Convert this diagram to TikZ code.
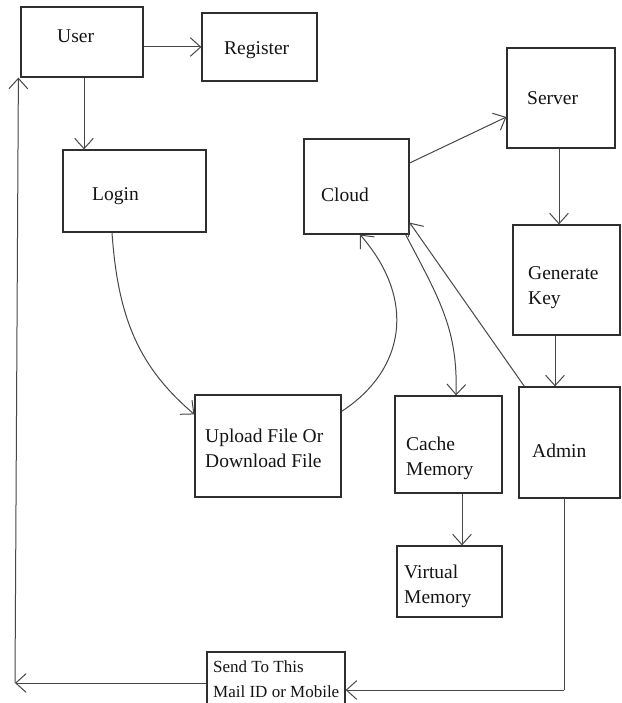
\documentclass[tikz,border=0pt]{standalone}
\usepackage{fontspec}
\setmainfont{Liberation Serif}
\usetikzlibrary{arrows.meta}
\begin{document}
\begin{tikzpicture}[x=1pt,y=-1pt,
  box/.style={draw=black!82, line width=1.2pt, rectangle, inner sep=0pt},
  lbl/.style={anchor=base west, inner sep=0pt, text=black!92, font=\fontsize{19.5}{24}\selectfont},
  slbl/.style={lbl, font=\fontsize{17}{21}\selectfont},
  conn/.style={draw=black!72, line width=1pt},
  arr/.style={conn, -{Straight Barb[angle=84:14pt]}}]
\clip (0,0) rectangle (621,703);
\fill[white] (0,0) rectangle (621,703);

% boxes
\node[box, minimum width=122pt, minimum height=70pt]  (user)     at (82,42) {};
\node[box, minimum width=115pt, minimum height=68pt]  (register) at (259.5,47) {};
\node[box, minimum width=143pt, minimum height=82pt]  (login)    at (134.5,191) {};
\node[box, minimum width=105pt, minimum height=95pt]  (cloud)    at (356.5,186.5) {};
\node[box, minimum width=108pt, minimum height=100pt] (server)   at (561,98) {};
\node[box, minimum width=107pt, minimum height=110pt] (genkey)   at (566.5,280) {};
\node[box, minimum width=146pt, minimum height=102pt] (upload)   at (268,446) {};
\node[box, minimum width=107pt, minimum height=97pt]  (cache)    at (448.5,444.5) {};
\node[box, minimum width=101pt, minimum height=111pt] (admin)    at (569.5,442.5) {};
\node[box, minimum width=105pt, minimum height=71pt]  (virtual)  at (449.5,581.5) {};
\node[box, minimum width=138pt, minimum height=63pt]  (send)     at (276,683.5) {};

% labels
\node[lbl] (tuser) at (57,43) {User};
\node[lbl] (treg) at (224,55) {Register};
\node[lbl] (tlogin) at (92,201) {Login};
\node[lbl] (tcloud) at (321,202) {Cloud};
\node[lbl] (tserver) at (527,105) {Server};
\node[lbl] (tgen1) at (528,279) {Generate};
\node[lbl] (tgen2) at (528,304) {Key};
\node[lbl] (tup1) at (205,442) {Upload File Or};
\node[lbl] (tup2) at (205,467) {Download File};
\node[lbl] (tca1) at (406,450) {Cache};
\node[lbl] (tca2) at (406,475) {Memory};
\node[lbl] (tadmin) at (532,457) {Admin};
\node[lbl] (tvi1) at (404,578) {Virtual};
\node[lbl] (tvi2) at (404,603) {Memory};
\node[slbl] (tse1) at (213,672) {Send To This};
\node[slbl] (tse2) at (213,697) {Mail ID or Mobile};

% corner points of the return paths
\coordinate (c1) at (15,683);
\coordinate (c2) at (564,690);

% straight connectors
\draw[arr] (user.east |- register.west) -- (register.west);
\draw[arr] ([xshift=2pt]user.south) -- ([xshift=2pt]user.south |- login.north);
\draw[arr] ([yshift=23.5pt]cloud.east) -- ([yshift=-19pt]server.west);
\draw[arr] ([xshift=-2pt]server.south) -- ([xshift=-2pt]server.south |- genkey.north);
\draw[arr] ([xshift=-11.5pt]genkey.south) -- ([xshift=-11.5pt]genkey.south |- admin.north);
\draw[arr] ([xshift=13.5pt]cache.south) -- ([xshift=13.5pt]cache.south |- virtual.north);
\draw[arr] ([xshift=6pt]admin.north west) -- ([yshift=12pt]cloud.south east);
\draw[conn] ([xshift=-5.5pt]admin.south) -- (c2);
\draw[arr] (c2) -- (send.east |- c2);
\draw[arr] (send.west |- c1) -- (c1);
\draw[arr] (c1) -- ([xshift=-2pt]user.south west);

% curved connectors
\draw[arr] ([xshift=-22.5pt]login.south) .. controls (118,320) and (140,368) .. ([yshift=-20pt]upload.north west);
\draw[arr] ([yshift=-17pt]upload.north east) .. controls (405,370) and (417,300) .. ([xshift=3.5pt]cloud.south);
\draw[arr] ([xshift=-4pt]cloud.south east) .. controls (440,300) and (458,330) .. ([xshift=7.5pt]cache.north);
\end{tikzpicture}
\end{document}
